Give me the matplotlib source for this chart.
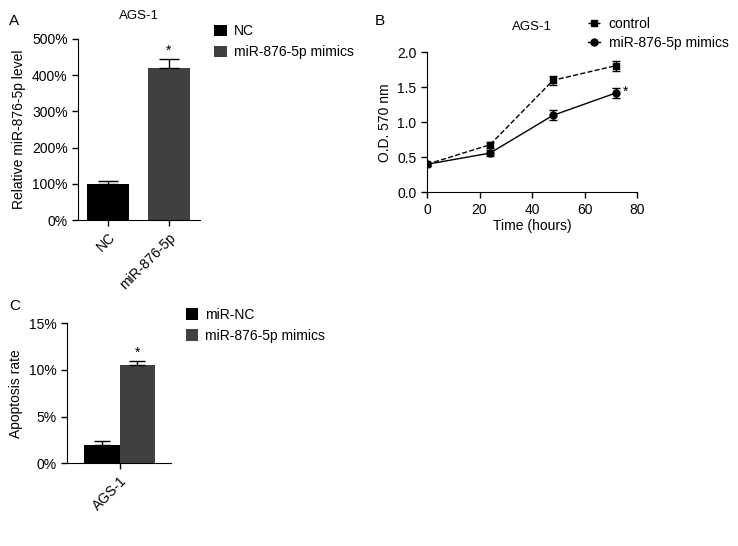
import numpy as np
import matplotlib.pyplot as plt
from matplotlib.lines import Line2D

plt.rcParams['font.family'] = ['Liberation Sans', 'DejaVu Sans']

# A: relative miR-876-5p level (%)
a_groups = ["NC", "miR-876-5p"]
a_legend = ["NC", "miR-876-5p mimics"]
a_values = [100, 420]
a_errors = [9, 23]

# B: MTT assay (O.D. 570 nm)
hours = [0, 24, 48, 72]
od_control = [0.40, 0.68, 1.60, 1.81]
od_control_err = [0.02, 0.04, 0.06, 0.07]
od_mimics = [0.40, 0.56, 1.10, 1.42]
od_mimics_err = [0.02, 0.04, 0.07, 0.07]

# C: apoptosis rate (%)
c_legend = ["miR-NC", "miR-876-5p mimics"]
c_values = [2.0, 10.5]
c_errors = [0.4, 0.5]

colors = ["#000000", "#404040"]

fig = plt.figure(figsize=(7.38, 5.46), dpi=100)

# ---- panel A ----
axA = fig.add_axes([0.1057, 0.597, 0.1653, 0.332])
xa = np.arange(len(a_values))
barsA = axA.bar(xa, a_values, width=0.69, color=colors, edgecolor="none")
axA.errorbar(xa, a_values, yerr=[[0, 0], a_errors], fmt="none", ecolor="black",
             elinewidth=1, capsize=7, capthick=1)
axA.text(xa[1], a_values[1] + a_errors[1] + 5, "*", ha="center", va="bottom", fontsize=10)
axA.set_xlim(-0.49, 1.51)
axA.set_ylim(0, 500)
axA.set_yticks([0, 100, 200, 300, 400, 500])
axA.set_yticklabels([f"{v}%" for v in [0, 100, 200, 300, 400, 500]])
axA.set_xticks(xa)
axA.set_xticklabels(a_groups, rotation=45, ha="right", rotation_mode="anchor")
axA.set_ylabel("Relative miR-876-5p level", fontsize=10)
axA.set_title("AGS-1", fontsize=9.5, pad=14)
axA.legend(barsA, a_legend, loc="upper left", bbox_to_anchor=(1.07, 1.11),
           frameon=False, fontsize=10, handlelength=0.9, handleheight=0.9,
           handletextpad=0.5, labelspacing=0.5, borderaxespad=0)
fig.text(0.012, 0.975, "A", fontsize=11, va="top")

# ---- panel B ----
axB = fig.add_axes([0.5786, 0.6478, 0.2846, 0.2564])
axB.errorbar(hours, od_control, yerr=od_control_err, color="black", ls="--",
             marker="s", ms=5, lw=1, capsize=3, elinewidth=1)
axB.errorbar(hours, od_mimics, yerr=od_mimics_err, color="black", ls="-",
             marker="o", ms=5, lw=1, capsize=3, elinewidth=1)
axB.text(75.5, od_mimics[-1] + 0.02, "*", ha="center", va="center", fontsize=10)
axB.set_xlim(0, 80)
axB.set_ylim(0, 2.0)
axB.set_xticks([0, 20, 40, 60, 80])
axB.set_yticks([0, 0.5, 1.0, 1.5, 2.0])
axB.set_yticklabels(["0.0", "0.5", "1.0", "1.5", "2.0"])
axB.set_xlabel("Time (hours)", fontsize=10, labelpad=2)
axB.set_ylabel("O.D. 570 nm", fontsize=10)
axB.set_title("AGS-1", fontsize=9.5, pad=16)
handlesB = [Line2D([], [], color="black", ls="--", marker="s", ms=5, lw=1),
            Line2D([], [], color="black", ls="-", marker="o", ms=5, lw=1)]
axB.legend(handlesB, ["control", "miR-876-5p mimics"], loc="upper left",
           bbox_to_anchor=(0.74, 1.29), frameon=False, fontsize=10,
           handlelength=0.9, handletextpad=0.6, labelspacing=0.35,
           borderaxespad=0)
fig.text(0.508, 0.975, "B", fontsize=11, va="top")

# ---- panel C ----
axC = fig.add_axes([0.0904, 0.1515, 0.1409, 0.2564])
xc = np.arange(len(c_values))
barsC = axC.bar(xc, c_values, width=1.0, color=colors, edgecolor="none")
axC.errorbar(xc, c_values, yerr=[[0, 0], c_errors], fmt="none", ecolor="black",
             elinewidth=1, capsize=6, capthick=1)
axC.text(xc[1], c_values[1] + c_errors[1] + 0.1, "*", ha="center", va="bottom", fontsize=10)
axC.set_xlim(-0.986, 1.94)
axC.set_ylim(0, 15)
axC.set_yticks([0, 5, 10, 15])
axC.set_yticklabels(["0%", "5%", "10%", "15%"])
axC.set_xticks([0.5])
axC.set_xticklabels(["AGS-1"], rotation=45, ha="right", rotation_mode="anchor")
axC.set_ylabel("Apoptosis rate", fontsize=10)
axC.legend(barsC, c_legend, loc="upper left", bbox_to_anchor=(1.09, 1.15),
           frameon=False, fontsize=10, handlelength=0.9, handleheight=0.9,
           handletextpad=0.5, labelspacing=0.5, borderaxespad=0)
fig.text(0.012, 0.452, "C", fontsize=11, va="top")

for ax in (axA, axB, axC):
    for s in ("top", "right"):
        ax.spines[s].set_visible(False)
    ax.tick_params(labelsize=10, width=1, length=4)

fig.savefig("out.png", dpi=100)
